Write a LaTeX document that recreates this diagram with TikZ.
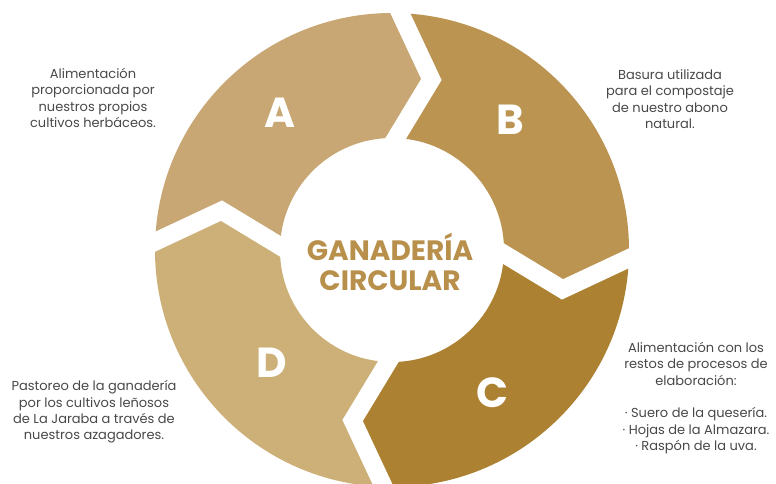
\documentclass[tikz,border=0pt]{standalone}
\usepackage{fontspec}
\setmainfont{Poppins}
\usepackage{tikz}
\usetikzlibrary{calc}
\definecolor{segA}{RGB}{200,167,116}
\definecolor{segB}{RGB}{187,148,82}
\definecolor{segC}{RGB}{172,130,50}
\definecolor{segD}{RGB}{205,176,120}
\definecolor{gold}{RGB}{184,144,76}
\definecolor{txt}{RGB}{72,72,72}
\tikzset{gapline/.style={draw=white,line width=18pt,line cap=rect,miter limit=20},note/.style={align=center,text=txt,font=\fontsize{13}{16.3}\selectfont,inner sep=0pt},tag/.style={text=white,font=\fontsize{42}{42}\selectfont\bfseries,inner sep=0pt},title/.style={align=center,text=gold,font=\fontsize{28}{30}\selectfont\bfseries,inner sep=0pt}}

\begin{document}
\begin{tikzpicture}[x=1pt,y=1pt]
\useasboundingbox (0,0) rectangle (776,483);
\clip (0,0) rectangle (776,483);
\begin{scope}[shift={(392,233)}]
% ring segments A, B, C, D
\foreach \l/\c in {88/segA,-2/segB,-92/segC,-182/segD}
  \fill[\c] (\l:237) arc[start angle=\l,end angle=\l+90,radius=237] -- (\l+79:175) -- (\l+90:112) arc[start angle=\l+90,end angle=\l,radius=112] -- (\l-11:175) -- cycle;
% chevron gaps
\foreach \a in {88,-2,-92,178}
  \draw[gapline] (\a:237) -- (\a-11:175) -- (\a:112);
\end{scope}
\node[title] (centre) at (390,221) {GANADERÍA\\CIRCULAR};
\node[tag] (a) at (280,370) {A};
\node[tag] (b) at (510,363) {B};
\node[tag] (c) at (492,90) {C};
\node[tag] (d) at (272,120) {D};
\node[note] (na) at (93,385) {Alimentación\\proporcionada por\\nuestros propios\\cultivos herbáceos.};
\node[note] (nb) at (670,384) {Basura utilizada\\para el compostaje\\de nuestro abono\\natural.};
\node[note] (nc) at (696,85) {Alimentación con los\\restos de procesos de\\elaboración:\\[16.3pt]· Suero de la quesería.\\· Hojas de la Almazara.\\· Raspón de la uva.};
\node[note] (nd) at (94,71) {Pastoreo de la ganadería\\por los cultivos leñosos\\de La Jaraba a través de\\nuestros azagadores.};
\end{tikzpicture}
\end{document}
